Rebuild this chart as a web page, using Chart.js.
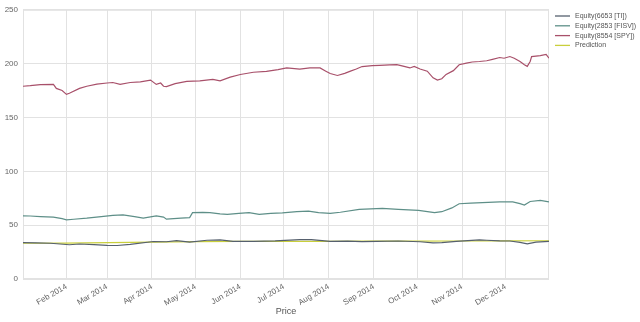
<!DOCTYPE html>
<html>
<head>
<meta charset="utf-8">
<script src="https://cdn.jsdelivr.net/npm/chart.js@4"></script>
<style>
  html, body { margin: 0; padding: 0; background: #fff; }
  canvas { display: block; }
</style>
</head>
<body>
<canvas id="equity-chart" width="640" height="322"></canvas>
<script>
// ── DATA (x = day of 2014, Jan 1 = 0) ───────
const monthTicks = [31, 59, 90, 120, 151, 181, 212, 243, 273, 304, 334];
const monthLabels = ['Feb 2014', 'Mar 2014', 'Apr 2014', 'May 2014', 'Jun 2014', 'Jul 2014',
  'Aug 2014', 'Sep 2014', 'Oct 2014', 'Nov 2014', 'Dec 2014'];
const yTicks = [0, 50, 100, 150, 200, 250];

const tiDays = [1, 10, 20, 33, 40, 50, 59, 66, 75, 91, 100, 107, 116, 128, 137, 146, 160, 175,
  192, 200, 213, 225, 235, 245, 260, 275, 284, 290, 300, 316, 321, 330, 337, 344, 349, 355, 364];
const tiVals = [33.8, 33.6, 33.2, 31.8, 32.5, 32.0, 31.3, 31.1, 32.2, 34.8, 34.6, 35.7, 34.2, 36.0,
  36.3, 35.0, 35.0, 35.4, 36.6, 36.5, 35.0, 35.2, 34.8, 35.0, 35.3, 34.6, 33.6, 33.8, 35.0, 36.3,
  36.0, 35.4, 35.3, 34.0, 32.7, 34.2, 35.0];

const fisvDays = [1, 6, 13, 22, 24, 28, 31, 36, 45, 55, 63, 70, 78, 84, 93, 98, 100, 110, 116, 118,
  125, 130, 137, 142, 150, 157, 164, 172, 180, 190, 198, 205, 213, 220, 233, 249, 260, 274, 285,
  290, 297, 302, 310, 318, 330, 339, 344, 347, 351, 358, 364];
const fisvVals = [58.6, 58.5, 58.0, 57.5, 57.0, 56.0, 55.0, 55.5, 56.5, 58.0, 59.0, 59.5, 58.0, 56.5,
  58.6, 57.5, 55.6, 56.5, 57.0, 61.6, 61.8, 61.6, 60.5, 60.1, 61.0, 61.6, 60.0, 61.0, 61.5, 62.6,
  63.0, 61.6, 61.0, 62.0, 64.7, 65.6, 64.7, 63.8, 61.6, 62.5, 66.0, 69.9, 70.5, 71.0, 71.7, 71.7,
  70.0, 68.7, 72.0, 73.0, 71.7];

const spyDays = [1, 6, 13, 22, 24, 28, 31, 33, 40, 45, 52, 59, 63, 68, 75, 82, 89, 93, 96, 98, 100,
  106, 114, 123, 132, 137, 144, 151, 160, 169, 177, 183, 192, 199, 206, 210, 213, 218, 223, 227,
  231, 235, 242, 247, 254, 259, 264, 268, 271, 275, 280, 284, 287, 290, 293, 298, 302, 307, 311,
  316, 321, 325, 330, 333, 337, 340, 344, 347, 349, 351, 352, 358, 362, 364];
const spyVals = [179.0, 179.5, 180.5, 180.7, 177.0, 175.0, 171.5, 172.5, 177.0, 179.0, 181.0, 182.0,
  182.5, 180.7, 182.5, 183.0, 184.7, 180.7, 182.0, 179.0, 178.6, 181.5, 183.6, 184.0, 185.3, 184.0,
  187.5, 189.9, 192.0, 192.9, 194.5, 196.0, 195.0, 196.0, 196.0, 193.0, 190.8, 189.0, 191.0, 193.0,
  195.0, 197.3, 198.2, 198.4, 198.8, 199.0, 197.5, 196.0, 197.5, 195.0, 193.0, 186.8, 184.7, 186.0,
  190.0, 193.5, 199.0, 200.5, 201.5, 202.0, 202.7, 204.0, 205.7, 205.0, 206.6, 205.0, 202.0, 199.0,
  197.5, 202.0, 206.6, 207.5, 208.5, 205.0];

const predDays = [1, 30, 60, 90, 120, 150, 180, 210, 240, 270, 300, 330, 364];
const predVals = [33.2, 33.3, 33.8, 34.3, 34.7, 34.9, 35.0, 35.0, 35.1, 35.2, 35.3, 35.4, 35.5];

const seriesNames = ['Equity(6653 [TI])', 'Equity(2853 [FISV])', 'Equity(8554 [SPY])', 'Prediction'];
const seriesColours = ['#56606e', '#5e8f88', '#a8506a', '#c9cf3c'];

const FONT = '"Liberation Sans", Arial, sans-serif';
const GRID = '#e2e2e2';

const toPoints = (days, vals) => days.map((d, i) => ({ x: d, y: vals[i] }));

// ── FRAME + LEGEND PLUGIN ───────────────────
const frameLegend = {
  id: 'frameLegend',
  beforeDatasetsDraw(chart) {
    const { ctx, chartArea: a } = chart;
    ctx.save();
    ctx.strokeStyle = GRID;
    ctx.lineWidth = 1;
    ctx.strokeRect(a.left + 0.5, a.top + 0.5, a.right - a.left - 1, a.bottom - a.top - 1);
    ctx.restore();
  },
  afterDraw(chart) {
    const ctx = chart.ctx;
    ctx.save();
    ctx.font = '7px ' + FONT;
    ctx.textBaseline = 'middle';
    chart.data.datasets.forEach((ds, i) => {
      const y = 16 + i * 9.8;
      ctx.strokeStyle = ds.borderColor;
      ctx.lineWidth = 1.3;
      ctx.beginPath();
      ctx.moveTo(555, y);
      ctx.lineTo(570, y);
      ctx.stroke();
      ctx.fillStyle = '#555';
      ctx.fillText(ds.label, 575, y);
    });
    ctx.restore();
  }
};

const datasets = [
  toPoints(tiDays, tiVals),
  toPoints(fisvDays, fisvVals),
  toPoints(spyDays, spyVals),
  toPoints(predDays, predVals)
].map((pts, i) => ({
  label: seriesNames[i],
  data: pts,
  borderColor: seriesColours[i],
  borderWidth: 1.2,
  pointRadius: 0,
  tension: 0,
  fill: false
}));

new Chart(document.getElementById('equity-chart'), {
  type: 'line',
  data: { datasets },
  plugins: [frameLegend],
  options: {
    responsive: false,
    animation: false,
    devicePixelRatio: 1,
    layout: { padding: { left: 0, top: 6, right: 91, bottom: 0 } },
    plugins: { legend: { display: false }, tooltip: { enabled: false } },
    scales: {
      x: {
        type: 'linear',
        min: 1,
        max: 364,
        afterBuildTicks: (scale) => { scale.ticks = monthTicks.map(v => ({ value: v })); },
        afterFit: (scale) => { scale.height = 43; },
        ticks: {
          minRotation: 30,
          maxRotation: 30,
          padding: 3,
          color: '#666',
          font: { family: FONT, size: 8 },
          callback: (val, idx) => monthLabels[idx]
        },
        grid: { color: GRID, drawTicks: false },
        border: { display: false },
        title: {
          display: true,
          text: 'Price',
          color: '#555',
          font: { family: FONT, size: 9 },
          padding: { top: 0, bottom: 5 }
        }
      },
      y: {
        min: 0,
        max: 250,
        afterBuildTicks: (scale) => { scale.ticks = yTicks.map(v => ({ value: v })); },
        afterFit: (scale) => { scale.width = 23; },
        ticks: {
          padding: 5,
          color: '#666',
          font: { family: FONT, size: 8 }
        },
        grid: { color: GRID, drawTicks: false },
        border: { display: false }
      }
    }
  }
});
</script>
</body>
</html>
